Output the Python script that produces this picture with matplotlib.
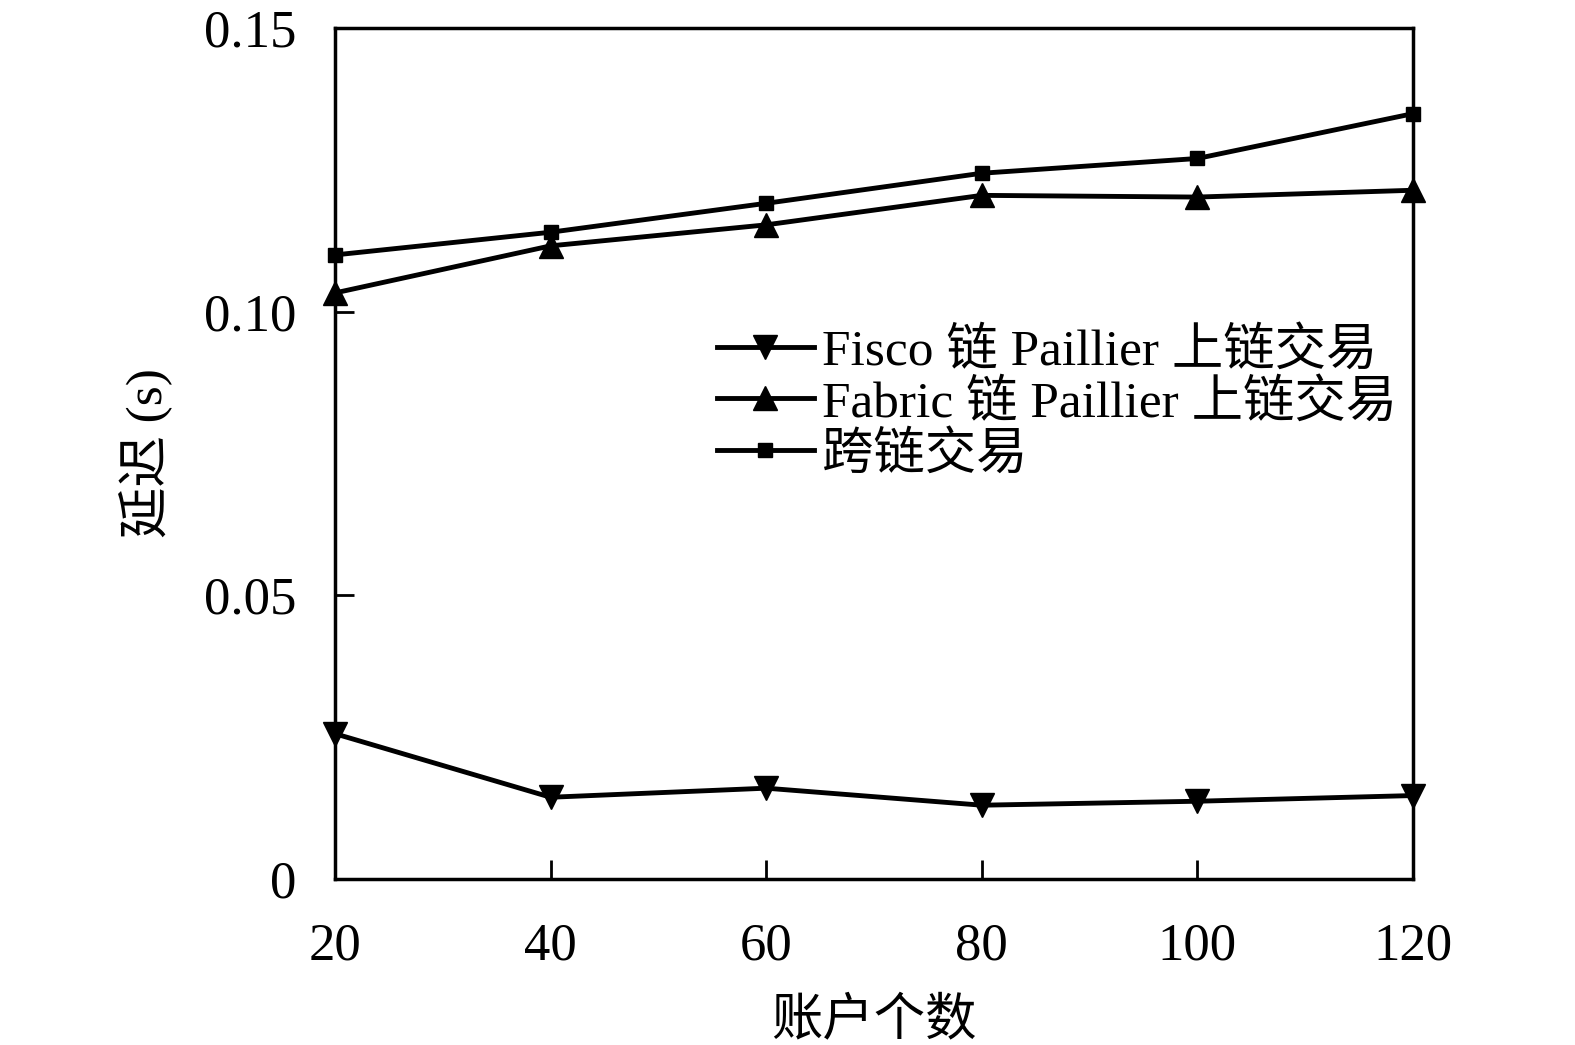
import matplotlib
matplotlib.use("Agg")
import matplotlib.pyplot as plt

plt.rcParams['font.family'] = ['Liberation Serif', 'Noto Sans CJK SC']

# data
accounts = [20, 40, 60, 80, 100, 120]
fisco = [0.0256, 0.0144, 0.0160, 0.0130, 0.0137, 0.0147]
fabric = [0.1033, 0.1116, 0.1153, 0.1205, 0.1202, 0.1214]
cross = [0.1100, 0.1140, 0.1191, 0.1244, 0.1270, 0.1349]

labels = ['Fisco 链 Paillier 上链交易', 'Fabric 链 Paillier 上链交易', '跨链交易']
xticks = [20, 40, 60, 80, 100, 120]
yticks = [0, 0.05, 0.10, 0.15]
ytick_labels = ['0', '0.05', '0.10', '0.15']

fig = plt.figure(figsize=(15.75, 10.45), dpi=100)
ax = fig.add_axes([0.2127, 0.1589, 0.6844, 0.8143])

ax.plot(accounts, fisco, color='k', lw=3.5, marker='v', ms=17, label=labels[0], clip_on=False, zorder=3)
ax.plot(accounts, fabric, color='k', lw=3.5, marker='^', ms=17, label=labels[1], clip_on=False, zorder=3)
ax.plot(accounts, cross, color='k', lw=3.5, marker='s', ms=10, label=labels[2], clip_on=False, zorder=3)

ax.set_xlim(20, 120)
ax.set_ylim(0, 0.15)
ax.set_xticks(xticks)
ax.set_yticks(yticks)
ax.set_yticklabels(ytick_labels)
ax.tick_params(direction='in', length=14, width=2, labelsize=38)
ax.tick_params(axis='y', pad=28)
ax.tick_params(axis='x', pad=31)
for s in ax.spines.values():
    s.set_linewidth(2.5)

ax.set_xlabel('账户个数', fontsize=37, labelpad=20)
ax.set_ylabel('延迟 (s)', fontsize=37, labelpad=22)

ax.legend(loc='upper left', bbox_to_anchor=(0.335, 0.672), frameon=False, fontsize=37,
          handlelength=1.9, handletextpad=0.15, labelspacing=0.08, borderaxespad=0)

fig.savefig('out.png', dpi=100)
